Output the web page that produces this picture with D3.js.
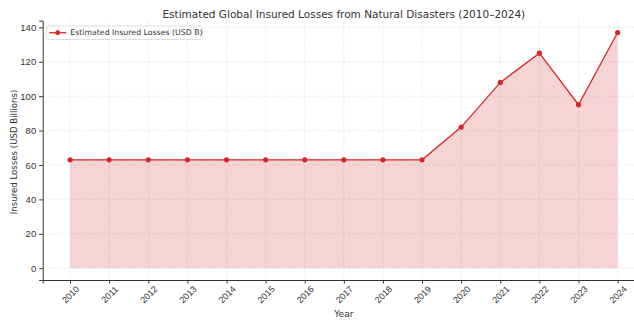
<!DOCTYPE html>
<html>
<head>
<meta charset="utf-8">
<script src="https://cdn.jsdelivr.net/npm/d3@7"></script>
<style>
  body { margin: 0; background: #fff; }
  svg { font-family: "DejaVu Sans", sans-serif; display: block; }
</style>
</head>
<body>
<div id="chart"></div>
<script>
// data
const years = [2010, 2011, 2012, 2013, 2014, 2015, 2016, 2017, 2018, 2019, 2020, 2021, 2022, 2023, 2024];
const losses = [63, 63, 63, 63, 63, 63, 63, 63, 63, 63, 82, 108, 125, 95, 137];
const yTicks = [0, 20, 40, 60, 80, 100, 120, 140];

const lineColor = "#d62728";

// dimensions
const W = 634, H = 324;
const margin = { top: 20.7, right: -11, bottom: 44, left: 42.7 };
const width = W - margin.left - margin.right,
  height = H - margin.top - margin.bottom;

const svg = d3.select("#chart")
  .append("svg")
  .attr("width", W)
  .attr("height", H)
  .attr("viewBox", `0 0 ${W} ${H}`);

const g = svg.append("g")
  .attr("transform", `translate(${margin.left},${margin.top})`);

// scales with matplotlib-like 5% margins
const xPad = (2024 - 2010) * 0.05;
const x = d3.scaleLinear()
  .domain([2010 - xPad, 2024 + xPad])
  .range([0, width]);

const yMaxV = d3.max(losses);
const yPad = yMaxV * 0.05;
const y = d3.scaleLinear()
  .domain([-yPad, yMaxV + yPad])
  .range([height, 0]);

// grid
const gridStyle = sel => sel
  .attr("stroke", "#b0b0b0")
  .attr("stroke-opacity", 0.3)
  .attr("stroke-width", 0.8)
  .attr("stroke-dasharray", "3,2");

g.append("g")
  .selectAll("line")
  .data(years)
  .join("line")
  .attr("x1", d => x(d)).attr("x2", d => x(d))
  .attr("y1", 0).attr("y2", height)
  .call(gridStyle);

g.append("g")
  .selectAll("line")
  .data(yTicks)
  .join("line")
  .attr("x1", 0).attr("x2", width)
  .attr("y1", d => y(d)).attr("y2", d => y(d))
  .call(gridStyle);

// area fill
const data = years.map((yr, i) => ({ year: yr, value: losses[i] }));

g.append("path")
  .datum(data)
  .attr("fill", lineColor)
  .attr("fill-opacity", 0.2)
  .attr("stroke", "none")
  .attr("d", d3.area()
    .x(d => x(d.year))
    .y0(y(0))
    .y1(d => y(d.value))
  );

// line
g.append("path")
  .datum(data)
  .attr("fill", "none")
  .attr("stroke", lineColor)
  .attr("stroke-width", 1.3)
  .attr("d", d3.line()
    .x(d => x(d.year))
    .y(d => y(d.value))
  );

g.selectAll(".dot")
  .data(data)
  .join("circle")
  .attr("class", "dot")
  .attr("cx", d => x(d.year))
  .attr("cy", d => y(d.value))
  .attr("r", 2.6)
  .attr("fill", lineColor);

// axes
const xAxis = g.append("g")
  .attr("transform", `translate(0,${height})`)
  .call(d3.axisBottom(x).tickValues(years).tickFormat(d3.format("d")).tickSizeOuter(0).tickSize(3.5));

xAxis.selectAll("text")
  .attr("font-size", 9)
  .attr("fill", "#333")
  .attr("text-anchor", "middle")
  .attr("y", 0)
  .attr("dy", "0.35em")
  .attr("transform", "translate(0,14.5) rotate(-45)");

const yAxis = g.append("g")
  .call(d3.axisLeft(y).tickValues(yTicks).tickSizeOuter(0).tickSize(3.5));

yAxis.selectAll("text")
  .attr("font-size", 9.5)
  .attr("fill", "#333");

[xAxis, yAxis].forEach(a => {
  a.select(".domain").attr("stroke", "#333").attr("stroke-width", 1);
  a.selectAll(".tick line").attr("stroke", "#333");
});

// labels
svg.append("text")
  .attr("x", margin.left + width / 2)
  .attr("y", 18)
  .attr("text-anchor", "middle")
  .attr("font-size", 10.5)
  .attr("fill", "#333")
  .text("Estimated Global Insured Losses from Natural Disasters (2010–2024)");

svg.append("text")
  .attr("x", margin.left + width / 2)
  .attr("y", 317)
  .attr("text-anchor", "middle")
  .attr("font-size", 9)
  .attr("fill", "#333")
  .text("Year");

svg.append("text")
  .attr("transform", `translate(17,152) rotate(-90)`)
  .attr("text-anchor", "middle")
  .attr("font-size", 8.6)
  .attr("fill", "#333")
  .text("Insured Losses (USD Billions)");

// legend
const legend = g.append("g").attr("transform", "translate(3.5,5.3)");
legend.append("rect")
  .attr("width", 156).attr("height", 13.5)
  .attr("rx", 2)
  .attr("fill", "#fff").attr("fill-opacity", 0.8)
  .attr("stroke", "#ddd");
legend.append("line")
  .attr("x1", 3).attr("x2", 20).attr("y1", 6.75).attr("y2", 6.75)
  .attr("stroke", lineColor).attr("stroke-width", 1.3);
legend.append("circle")
  .attr("cx", 11.5).attr("cy", 6.75).attr("r", 2.4).attr("fill", lineColor);
legend.append("text")
  .attr("x", 24).attr("y", 6.75)
  .attr("dy", "0.35em")
  .attr("font-size", 7.8)
  .attr("fill", "#333")
  .text("Estimated Insured Losses (USD B)");
</script>
</body>
</html>
